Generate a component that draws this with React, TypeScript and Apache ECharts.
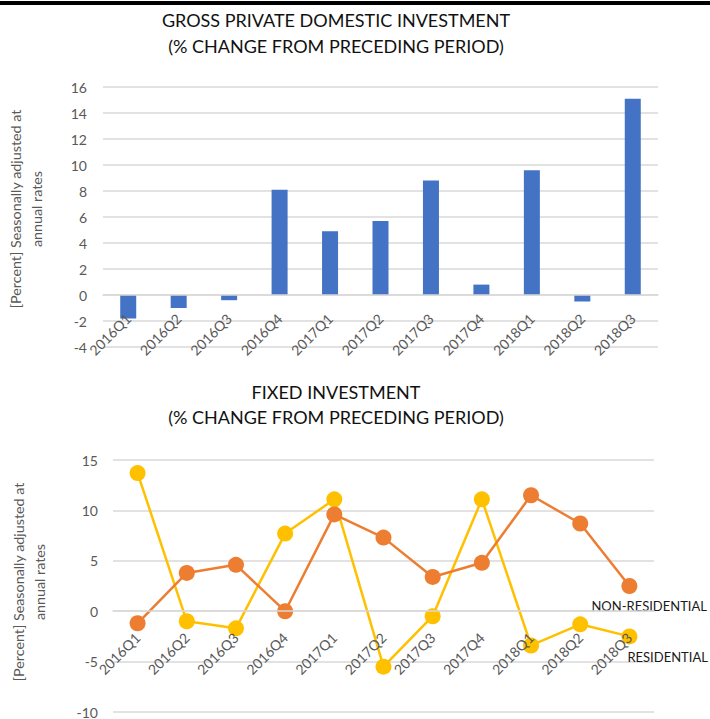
import React, { useEffect, useRef } from "react";
import * as echarts from "echarts";

const categories = ["2016Q1", "2016Q2", "2016Q3", "2016Q4", "2017Q1", "2017Q2", "2017Q3", "2017Q4", "2018Q1", "2018Q2", "2018Q3"];
const gpdi = [-1.8, -1.0, -0.4, 8.1, 4.9, 5.7, 8.8, 0.8, 9.6, -0.5, 15.1];
const residential = [13.7, -1.0, -1.7, 7.7, 11.1, -5.5, -0.5, 11.1, -3.4, -1.3, -2.5];
const nonResidential = [-1.2, 3.8, 4.6, 0.0, 9.6, 7.3, 3.4, 4.8, 11.5, 8.7, 2.5];
const topTitle = "GROSS PRIVATE DOMESTIC INVESTMENT\n(% CHANGE FROM PRECEDING PERIOD)";
const bottomTitle = "FIXED INVESTMENT\n(% CHANGE FROM PRECEDING PERIOD)";
const yName = "[Percent] Seasonally adjusted at\nannual rates";
const topRange = { min: -4, max: 16, interval: 2 };
const bottomRange = { min: -10, max: 15, interval: 5 };

const FONT = "Lato, 'Open Sans', sans-serif";
const GRAY = "#595959";
const GRID = "#D9D9D9";

export default function App() {
  const ref = useRef<HTMLDivElement>(null);
  useEffect(() => {
    if (!ref.current) return;
    const chart = echarts.init(ref.current, undefined, { renderer: "svg" });
    const last = categories.length - 1;
    const topGrid = { left: 103, top: 87, width: 555, height: 260 };
    const bottomGrid = { left: 113, top: 460, width: 541, height: 252 };
    // distance of the zero line above the grid bottom, so the category axis sits on zero
    const zeroOffset = (g: { height: number }, r: { min: number; max: number }) =>
      -(g.height * (0 - r.min)) / (r.max - r.min);
    const lastLabel = (name: string, pos: number[]) => ({
      show: true,
      formatter: name,
      position: pos,
      color: "#1a1a1a",
      fontSize: 13,
      fontFamily: FONT,
      verticalAlign: "middle",
      align: "left",
    });
    const xAxisBase = {
      type: "category",
      data: categories,
      z: 10,
      axisTick: { show: false },
      axisLine: { onZero: false, lineStyle: { color: GRID, width: 1.5 } },
      splitLine: { show: false },
    };
    const xLabel = (margin: number) => ({
      rotate: 45,
      color: GRAY,
      fontSize: 14,
      fontFamily: FONT,
      margin,
    });
    const yAxisBase = {
      type: "value",
      nameLocation: "middle",
      nameRotate: 90,
      name: yName,
      axisLine: { show: false },
      axisTick: { show: false },
      splitLine: { lineStyle: { color: GRID, width: 1.5 } },
    };
    const yNameStyle = (shift: number) => ({
      color: GRAY,
      fontSize: 14.3,
      fontFamily: FONT,
      lineHeight: 21,
      padding: [0, 0, 0, shift],
    });
    chart.setOption({
      animation: false,
      backgroundColor: "#fff",
      graphic: [
        { type: "rect", shape: { x: 0, y: 1, width: 710, height: 4 }, style: { fill: "#000" } },
      ],
      title: [
        {
          text: topTitle,
          left: 331,
          textAlign: "center",
          top: 2,
          textStyle: { fontSize: 18, fontWeight: "normal", color: "#111", fontFamily: FONT, lineHeight: 26 },
        },
        {
          text: bottomTitle,
          left: 331,
          textAlign: "center",
          top: 374,
          textStyle: { fontSize: 18, fontWeight: "normal", color: "#111", fontFamily: FONT, lineHeight: 25 },
        },
      ],
      grid: [
        { ...topGrid, containLabel: false, outerBoundsMode: "none" },
        { ...bottomGrid, containLabel: false, outerBoundsMode: "none" },
      ],
      xAxis: [
        { ...xAxisBase, gridIndex: 0, offset: zeroOffset(topGrid, topRange), axisLabel: xLabel(21) },
        { ...xAxisBase, gridIndex: 1, offset: zeroOffset(bottomGrid, bottomRange), axisLabel: xLabel(24) },
      ],
      yAxis: [
        {
          ...yAxisBase,
          gridIndex: 0,
          ...topRange,
          nameGap: 56,
          nameTextStyle: yNameStyle(16),
          axisLabel: { color: GRAY, fontSize: 14, fontFamily: FONT, margin: 16 },
        },
        {
          ...yAxisBase,
          gridIndex: 1,
          ...bottomRange,
          nameGap: 63,
          nameTextStyle: yNameStyle(8),
          axisLabel: { color: GRAY, fontSize: 14, fontFamily: FONT, margin: 15 },
        },
      ],
      series: [
        {
          type: "bar",
          name: "GPDI",
          xAxisIndex: 0,
          yAxisIndex: 0,
          data: gpdi,
          barWidth: 16,
          itemStyle: { color: "#4472C4" },
        },
        {
          type: "line",
          name: "RESIDENTIAL",
          xAxisIndex: 1,
          yAxisIndex: 1,
          data: residential.map((v, i) =>
            i === last ? { value: v, label: lastLabel("RESIDENTIAL", [6, 29]) } : v
          ),
          symbol: "circle",
          symbolSize: 16,
          lineStyle: { color: "#FFC000", width: 2.5 },
          itemStyle: { color: "#FFC000" },
        },
        {
          type: "line",
          name: "NON-RESIDENTIAL",
          xAxisIndex: 1,
          yAxisIndex: 1,
          data: nonResidential.map((v, i) =>
            i === last ? { value: v, label: lastLabel("NON-RESIDENTIAL", [-30, 28]) } : v
          ),
          symbol: "circle",
          symbolSize: 16,
          lineStyle: { color: "#ED7D31", width: 2.5 },
          itemStyle: { color: "#ED7D31" },
        },
      ],
    });
    return () => chart.dispose();
  }, []);
  return (
    <div
      ref={ref}
      style={{ position: "absolute", left: 0, top: 0, width: 710, height: 719 }}
    />
  );
}
